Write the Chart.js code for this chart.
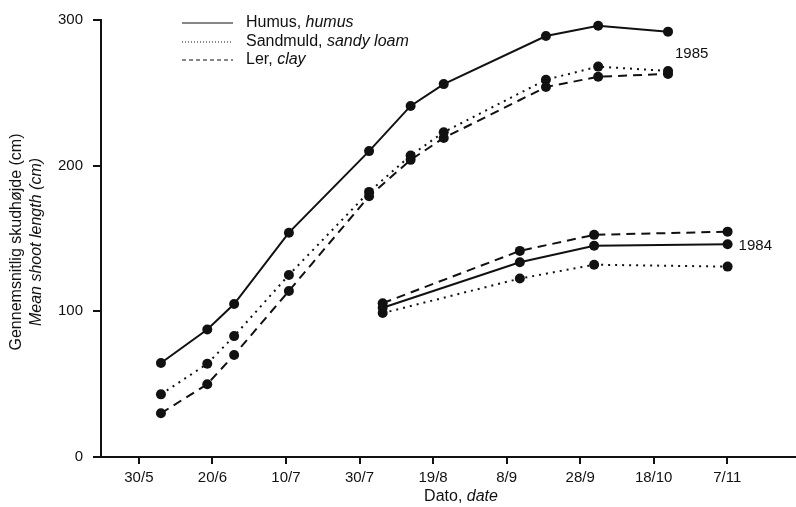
<!DOCTYPE html>
<html>
<head>
<meta charset="utf-8">
<script src="https://cdn.jsdelivr.net/npm/chart.js@4.4.1/dist/chart.umd.min.js"></script>
<style>
  html, body { margin: 0; padding: 0; background: #fff; }
  #wrap { width: 796px; height: 507px; }
</style>
</head>
<body>
<div id="wrap"><canvas id="chart" width="796" height="507"></canvas></div>
<script>
// x values are days after 30/5
const tickDays = [0, 20, 40, 60, 80, 100, 120, 140, 160];
const tickLabels = ['30/5', '20/6', '10/7', '30/7', '19/8', '8/9', '28/9', '18/10', '7/11'];
const yTicks = [0, 100, 200, 300];

const days1985 = [6, 18.6, 25.9, 40.8, 62.6, 73.9, 82.9, 110.7, 124.9, 143.9];
const humus1985 = [64.5, 87.5, 105, 154, 210, 241, 256, 289, 296, 292];
const sandy1985 = [43, 64, 83, 125, 182, 207, 223, 259, 268, 265];
const clay1985 = [30, 50, 70, 114, 179, 204, 219, 254, 261, 263];

const days1984 = [66.3, 103.6, 123.8, 160.1];
const humus1984 = [102.5, 133.7, 145, 146];
const sandy1984 = [98.8, 122.5, 132, 130.7];
const clay1984 = [105.6, 141.5, 152.5, 154.7];

const ink = '#111';
const font = '"Liberation Sans", Arial, sans-serif';

const styles = {
  humus: { dash: [], legendDash: [] },
  sandy: { dash: [2, 5], legendDash: [1, 2] },
  clay: { dash: [9, 6], legendDash: [4, 3] }
};

function pts(xs, ys) {
  return xs.map((x, i) => ({ x: x, y: ys[i] }));
}

function series(label, xs, ys, kind) {
  return {
    label: label,
    data: pts(xs, ys),
    borderColor: ink,
    backgroundColor: ink,
    borderWidth: 2,
    borderDash: styles[kind].dash,
    pointRadius: 5,
    pointHoverRadius: 5,
    pointBorderWidth: 0,
    tension: 0,
    fill: false
  };
}

const textPlugin = {
  id: 'textPlugin',
  afterDraw(chart) {
    const ctx = chart.ctx;
    const xs = chart.scales.x, ys = chart.scales.y;
    ctx.save();
    ctx.fillStyle = ink;
    ctx.strokeStyle = ink;
    ctx.textBaseline = 'middle';

    // legend
    const legend = [
      ['Humus, ', 'humus', 'humus', 23],
      ['Sandmuld, ', 'sandy loam', 'sandy', 42],
      ['Ler, ', 'clay', 'clay', 60]
    ];
    legend.forEach(([a, b, kind, y]) => {
      ctx.lineWidth = 1.2;
      ctx.setLineDash(styles[kind].legendDash);
      ctx.beginPath();
      ctx.moveTo(182, y);
      ctx.lineTo(233, y);
      ctx.stroke();
      ctx.setLineDash([]);
      ctx.textAlign = 'left';
      ctx.font = '16px ' + font;
      ctx.fillText(a, 246, y);
      const w = ctx.measureText(a).width;
      ctx.font = 'italic 16px ' + font;
      ctx.fillText(b, 246 + w, y);
    });

    // year labels beside the last points
    ctx.font = '15px ' + font;
    ctx.textAlign = 'left';
    const last85 = days1985.length - 1;
    ctx.fillText('1985', xs.getPixelForValue(days1985[last85]) + 7,
      ys.getPixelForValue((humus1985[last85] + sandy1985[last85]) / 2) + 3);
    const last84 = days1984.length - 1;
    ctx.fillText('1984', xs.getPixelForValue(days1984[last84]) + 11,
      ys.getPixelForValue(humus1984[last84]) + 2);

    // x title
    ctx.textAlign = 'left';
    const t1 = 'Dato, ';
    ctx.font = 'italic 16px ' + font;
    const t2w = ctx.measureText('date').width;
    ctx.font = '16px ' + font;
    const t1w = ctx.measureText(t1).width;
    const x0 = 461 - (t1w + t2w) / 2;
    ctx.fillText(t1, x0, 497);
    ctx.font = 'italic 16px ' + font;
    ctx.fillText('date', x0 + t1w, 497);

    // y title
    ctx.translate(0, 242);
    ctx.rotate(-Math.PI / 2);
    ctx.textAlign = 'center';
    ctx.font = '16px ' + font;
    ctx.fillText('Gennemsnitlig skudhøjde (cm)', 0, 17);
    ctx.font = 'italic 16px ' + font;
    ctx.fillText('Mean shoot length (cm)', 0, 37);
    ctx.restore();
  }
};

new Chart(document.getElementById('chart'), {
  type: 'line',
  data: {
    datasets: [
      series('Humus 1985', days1985, humus1985, 'humus'),
      series('Sandmuld 1985', days1985, sandy1985, 'sandy'),
      series('Ler 1985', days1985, clay1985, 'clay'),
      series('Humus 1984', days1984, humus1984, 'humus'),
      series('Sandmuld 1984', days1984, sandy1984, 'sandy'),
      series('Ler 1984', days1984, clay1984, 'clay')
    ]
  },
  options: {
    responsive: false,
    animation: false,
    events: [],
    layout: { autoPadding: false, padding: { top: 20, right: 0, left: 0, bottom: 0 } },
    plugins: {
      legend: { display: false },
      tooltip: { enabled: false }
    },
    scales: {
      x: {
        type: 'linear',
        min: -10.3,
        max: 178.7,
        afterBuildTicks: s => { s.ticks = tickDays.map(v => ({ value: v })); },
        afterFit: s => { s.height = 50; },
        grid: { drawOnChartArea: false, drawTicks: true, tickLength: 7, color: ink, lineWidth: 2 },
        border: { display: true, color: ink, width: 2 },
        ticks: {
          color: ink,
          padding: 5,
          maxRotation: 0,
          autoSkip: false,
          font: { family: font, size: 15 },
          callback: (v, i) => tickLabels[i]
        }
      },
      y: {
        min: 0,
        max: 300,
        afterBuildTicks: s => { s.ticks = yTicks.map(v => ({ value: v })); },
        afterFit: s => { s.width = 101; },
        grid: { drawOnChartArea: false, drawTicks: true, tickLength: 8, color: ink, lineWidth: 2 },
        border: { display: true, color: ink, width: 2 },
        ticks: {
          color: ink,
          padding: 10,
          font: { family: font, size: 15 }
        }
      }
    }
  },
  plugins: [textPlugin]
});
</script>
</body>
</html>
